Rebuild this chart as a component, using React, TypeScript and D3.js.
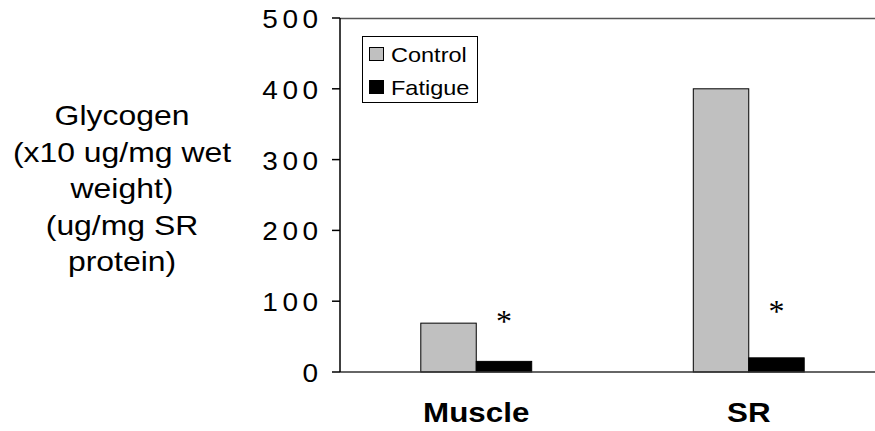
import React, { useRef, useEffect } from "react";
import * as d3 from "d3";

// categories and series
const categories = ["Muscle", "SR"];
const seriesNames = ["Control", "Fatigue"];
const controlValues = [69, 400];
const fatigueValues = [15, 20];
// significance markers (height in data units, above the fatigue bar)
const asteriskValues = [76, 90];
const yTicks = [0, 100, 200, 300, 400, 500];
const yLabelLines = [
  "Glycogen",
  "(x10 ug/mg wet",
  "weight)",
  "(ug/mg SR",
  "protein)",
];

const FONT = "Liberation Sans, Arial, sans-serif";
const STRETCH = 1.12; // the reference text is slightly wide

function GlycogenChart() {
  const svgRef = useRef<SVGSVGElement>(null);

  useEffect(() => {
    const svg = d3.select(svgRef.current);
    svg.selectAll("*").remove();

    const width = 875;
    const height = 431;
    const left = 340;
    const right = 885;
    const top = 18;
    const bottom = 372;

    svg.append("rect").attr("width", width).attr("height", height).attr("fill", "white");

    const y = d3.scaleLinear().domain([0, 500]).range([bottom, top]);
    const x0 = d3
      .scaleBand()
      .domain(categories)
      .range([left, right])
      .paddingInner(0.593)
      .paddingOuter(0.2965);
    const x1 = d3.scaleBand().domain(seriesNames).range([0, x0.bandwidth()]);

    const rows = categories.map((c, i) => ({
      category: c,
      values: [
        { name: "Control", value: controlValues[i] },
        { name: "Fatigue", value: fatigueValues[i] },
      ],
      star: asteriskValues[i],
    }));

    const fill = (name: string) => (name === "Control" ? "#c0c0c0" : "#000");

    // top border of plot area
    svg
      .append("line")
      .attr("x1", left)
      .attr("x2", right)
      .attr("y1", top + 0.5)
      .attr("y2", top + 0.5)
      .attr("stroke", "#555")
      .attr("stroke-width", 1.5);

    // bars
    const groups = svg
      .selectAll(".cat")
      .data(rows)
      .enter()
      .append("g")
      .attr("class", "cat")
      .attr("transform", (d) => `translate(${x0(d.category)},0)`);

    groups
      .selectAll("rect")
      .data((d) => d.values)
      .enter()
      .append("rect")
      .attr("x", (d) => x1(d.name)!)
      .attr("y", (d) => y(d.value))
      .attr("width", x1.bandwidth())
      .attr("height", (d) => bottom - y(d.value))
      .attr("fill", (d) => fill(d.name))
      .attr("stroke", "#000")
      .attr("stroke-width", 1);

    // asterisks
    groups
      .append("text")
      .attr("x", x1("Fatigue")! + x1.bandwidth() / 2)
      .attr("y", (d) => y(d.star) + 14)
      .attr("text-anchor", "middle")
      .attr("font-family", "Liberation Serif, Times New Roman, serif")
      .attr("font-size", 32)
      .attr("fill", "#000")
      .text("*");

    // baseline
    svg
      .append("line")
      .attr("x1", left)
      .attr("x2", right)
      .attr("y1", bottom)
      .attr("y2", bottom)
      .attr("stroke", "#333")
      .attr("stroke-width", 1.5);

    // y axis
    svg
      .append("line")
      .attr("x1", left)
      .attr("x2", left)
      .attr("y1", top)
      .attr("y2", bottom)
      .attr("stroke", "#000")
      .attr("stroke-width", 1.5);

    const tick = svg
      .selectAll(".tick")
      .data(yTicks)
      .enter()
      .append("g")
      .attr("class", "tick");

    tick
      .append("line")
      .attr("x1", left - 8)
      .attr("x2", left)
      .attr("y1", (d) => y(d))
      .attr("y2", (d) => y(d))
      .attr("stroke", "#000")
      .attr("stroke-width", 1.5);

    tick
      .append("text")
      .attr("transform", (d) => `translate(${left - 17.5},${y(d) + 10}) scale(${STRETCH},1)`)
      .attr("text-anchor", "end")
      .attr("font-family", FONT)
      .attr("font-size", 25)
      .attr("letter-spacing", 4)
      .attr("fill", "#000")
      .text((d) => d);

    // category labels
    svg
      .selectAll(".catlabel")
      .data(categories)
      .enter()
      .append("text")
      .attr("class", "catlabel")
      .attr(
        "transform",
        (d) => `translate(${x0(d)! + x0.bandwidth() / 2},422) scale(${STRETCH},1)`
      )
      .attr("text-anchor", "middle")
      .attr("font-family", FONT)
      .attr("font-weight", "bold")
      .attr("font-size", 28)
      .attr("fill", "#000")
      .text((d) => d);

    // y axis title
    svg
      .selectAll(".ylabel")
      .data(yLabelLines)
      .enter()
      .append("text")
      .attr("class", "ylabel")
      .attr("transform", (d, i) => `translate(122,${125 + i * 36.5}) scale(${STRETCH},1)`)
      .attr("text-anchor", "middle")
      .attr("font-family", FONT)
      .attr("font-size", 28.5)
      .attr("fill", "#000")
      .text((d) => d);

    // legend
    const legend = svg.append("g").attr("transform", "translate(362,36)");
    legend
      .append("rect")
      .attr("x", 0.5)
      .attr("y", 0.5)
      .attr("width", 115)
      .attr("height", 66)
      .attr("fill", "white")
      .attr("stroke", "#000")
      .attr("stroke-width", 1);

    const item = legend
      .selectAll(".item")
      .data(seriesNames)
      .enter()
      .append("g")
      .attr("class", "item")
      .attr("transform", (d, i) => `translate(0,${18 + i * 33})`);

    item
      .append("rect")
      .attr("x", 7.5)
      .attr("y", -6.5)
      .attr("width", 14)
      .attr("height", 13)
      .attr("fill", (d) => fill(d))
      .attr("stroke", "#000")
      .attr("stroke-width", 1);

    item
      .append("text")
      .attr("transform", `translate(29,8) scale(${STRETCH},1)`)
      .attr("font-family", FONT)
      .attr("font-size", 21)
      .attr("fill", "#000")
      .text((d) => d);
  }, []);

  return (
    <svg
      ref={svgRef}
      width={875}
      height={431}
      style={{ position: "absolute", left: 0, top: 0 }}
    ></svg>
  );
}

export default function App() {
  return <GlycogenChart />;
}
